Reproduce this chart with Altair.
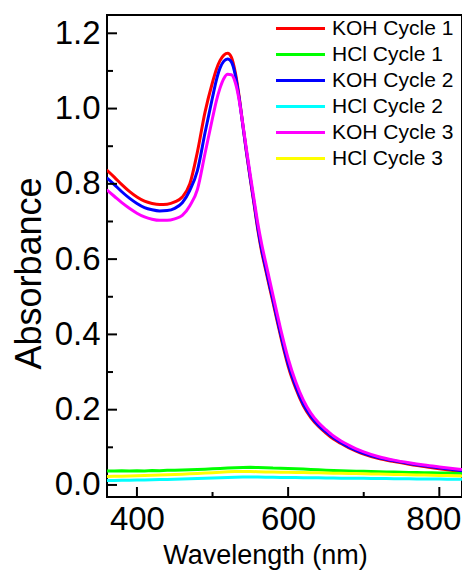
import altair as alt
import pandas as pd

# ---- data ----
koh_wl = [360, 370, 380, 390, 400, 410, 420, 430, 440, 450, 460, 470, 480, 490, 500,
          505, 510, 515, 520, 525, 530, 535, 540, 545, 550, 555, 560, 565, 570, 575,
          580, 585, 590, 595, 600,
          610, 620, 630, 640, 650, 660, 670, 680, 690, 700,
          720, 740, 760, 780, 800, 830]

koh1 = [0.837, 0.818, 0.798, 0.780, 0.765, 0.754, 0.748, 0.745, 0.746, 0.752, 0.765, 0.800, 0.885, 0.990, 1.070,
        1.104, 1.128, 1.142, 1.147, 1.136, 1.097, 1.035, 0.958, 0.882, 0.812, 0.745, 0.677, 0.620, 0.574, 0.529,
        0.485, 0.440, 0.396, 0.354, 0.316,
        0.257, 0.211, 0.179, 0.156, 0.138, 0.122, 0.110, 0.099, 0.090, 0.082,
        0.070, 0.062, 0.055, 0.049, 0.043, 0.035]

koh2 = [0.816, 0.798, 0.779, 0.762, 0.748, 0.737, 0.731, 0.728, 0.729, 0.735, 0.750, 0.783, 0.835, 0.935, 1.030,
        1.075, 1.108, 1.126, 1.132, 1.124, 1.090, 1.030, 0.957, 0.884, 0.815, 0.749, 0.682, 0.626, 0.580, 0.535,
        0.491, 0.446, 0.402, 0.360, 0.322,
        0.262, 0.215, 0.183, 0.159, 0.141, 0.125, 0.112, 0.101, 0.092, 0.084,
        0.072, 0.064, 0.057, 0.051, 0.046, 0.038]

koh3 = [0.784, 0.767, 0.750, 0.735, 0.722, 0.712, 0.706, 0.703, 0.703, 0.707, 0.716, 0.742, 0.785, 0.880, 0.975,
        1.020, 1.055, 1.080, 1.091, 1.090, 1.070, 1.025, 0.960, 0.890, 0.823, 0.758, 0.694, 0.640, 0.594, 0.549,
        0.504, 0.459, 0.415, 0.374, 0.336,
        0.274, 0.226, 0.191, 0.166, 0.147, 0.130, 0.117, 0.106, 0.096, 0.088,
        0.075, 0.066, 0.059, 0.053, 0.048, 0.041]

hcl_wl = [360, 370, 380, 390, 400, 410, 420, 430, 440, 450, 460, 470, 480, 490, 500, 510,
          520, 530, 540, 550, 560, 570, 580, 590, 600, 610, 620, 630, 640, 650, 660, 670,
          680, 690, 700, 710, 720, 730, 740, 750, 760, 770, 780, 790, 800, 810, 820, 830]

hcl1 = [0.0372, 0.0368, 0.0376, 0.0371, 0.0379, 0.0374, 0.0383, 0.0379, 0.0388, 0.0392, 0.0399, 0.0404, 0.0413, 0.0419, 0.0428, 0.0437,
        0.0448, 0.0455, 0.0466, 0.0469, 0.0463, 0.0460, 0.0451, 0.0447, 0.0438, 0.0431, 0.0422, 0.0412, 0.0404, 0.0392, 0.0384, 0.0376,
        0.0370, 0.0366, 0.0361, 0.0356, 0.0351, 0.0347, 0.0342, 0.0338, 0.0334, 0.0331, 0.0327, 0.0323, 0.0320, 0.0316, 0.0313, 0.0310]

hcl2 = [0.0115, 0.0118, 0.0122, 0.0126, 0.0130, 0.0134, 0.0139, 0.0143, 0.0148, 0.0153, 0.0158, 0.0164, 0.0170, 0.0176, 0.0183, 0.0190,
        0.0197, 0.0204, 0.0209, 0.0212, 0.0210, 0.0207, 0.0204, 0.0201, 0.0199, 0.0197, 0.0194, 0.0192, 0.0190, 0.0187, 0.0183, 0.0181,
        0.0179, 0.0177, 0.0175, 0.0173, 0.0171, 0.0169, 0.0167, 0.0165, 0.0163, 0.0161, 0.0159, 0.0157, 0.0155, 0.0153, 0.0151, 0.0150]

hcl3 = [0.0222, 0.0228, 0.0234, 0.0238, 0.0245, 0.0250, 0.0257, 0.0262, 0.0270, 0.0278, 0.0287, 0.0295, 0.0305, 0.0316, 0.0327, 0.0338,
        0.0348, 0.0355, 0.0360, 0.0358, 0.0352, 0.0347, 0.0342, 0.0338, 0.0335, 0.0332, 0.0329, 0.0326, 0.0322, 0.0319, 0.0314, 0.0310,
        0.0306, 0.0302, 0.0298, 0.0293, 0.0289, 0.0285, 0.0280, 0.0276, 0.0271, 0.0266, 0.0262, 0.0258, 0.0253, 0.0249, 0.0245, 0.0241]

series_names = ["KOH Cycle 1", "HCl Cycle 1", "KOH Cycle 2", "HCl Cycle 2", "KOH Cycle 3", "HCl Cycle 3"]
series_colors = ["#FF0000", "#00FF00", "#0000FF", "#00FFFF", "#FF00FF", "#FFFF00"]

x_major = [400, 600, 800]
x_minor = [500, 700]
y_major = [0.0, 0.2, 0.4, 0.6, 0.8, 1.0, 1.2]
y_minor = [0.1, 0.3, 0.5, 0.7, 0.9, 1.1]

X_DOMAIN = [360.4, 830.0]
Y_DOMAIN = [-0.032, 1.2486]

W, H = 355, 482
FONT = "Arial, Liberation Sans, sans-serif"

series_data = {
    "KOH Cycle 1": (koh_wl, koh1, "monotone"),
    "HCl Cycle 1": (hcl_wl, hcl1, "linear"),
    "KOH Cycle 2": (koh_wl, koh2, "monotone"),
    "HCl Cycle 2": (hcl_wl, hcl2, "linear"),
    "KOH Cycle 3": (koh_wl, koh3, "monotone"),
    "HCl Cycle 3": (hcl_wl, hcl3, "linear"),
}

xscale = alt.Scale(domain=X_DOMAIN, nice=False, zero=False)
yscale = alt.Scale(domain=Y_DOMAIN, nice=False, zero=False)
cscale = alt.Scale(domain=series_names, range=series_colors)

xaxis = alt.Axis(title="Wavelength (nm)", values=x_major, format="d", ticks=False, grid=False,
                 domain=False, labelFontSize=33, labelFont=FONT, labelColor="black",
                 labelPadding=6, labelOverlap=False, labelFlush=False,
                 labelOffset={"condition": {"test": "datum.value == 800", "value": -6}, "value": 0},
                 titleFont=FONT, titleFontSize=27, titleFontWeight="normal", titleColor="black",
                 titleBaseline="alphabetic", titleY=66, titleX=158)
yaxis = alt.Axis(title="Absorbance", values=y_major, format=".1f", ticks=False, grid=False,
                 domain=False, labelFontSize=33, labelFont=FONT, labelColor="black",
                 labelPadding=7, labelOverlap=False, labelFlush=False,
                 titleFont=FONT, titleFontSize=36, titleFontWeight="normal", titleColor="black",
                 titleBaseline="alphabetic", titleX=-67, titleY=258)

legend = alt.Legend(title=None, orient="none", legendX=183, legendY=3,
                    symbolType="M-4,0H4", symbolSize=150, symbolStrokeWidth=3,
                    labelFont=FONT, labelFontSize=21, labelColor="black",
                    labelOffset=21, rowPadding=4, padding=0)

X = alt.X("wl:Q", scale=xscale, axis=xaxis)
Y = alt.Y("abs:Q", scale=yscale, axis=yaxis)

layers = []
for name in series_names:
    wl, vals, interp = series_data[name]
    df = pd.DataFrame({"wl": wl, "abs": vals, "series": name})
    layers.append(
        alt.Chart(df).mark_line(strokeWidth=3, interpolate=interp, clip=True).encode(
            x=X, y=Y, color=alt.Color("series:N", scale=cscale, legend=legend)
        )
    )

# inward ticks
xt_major = alt.Chart(pd.DataFrame({"wl": x_major})).mark_rule(color="black", strokeWidth=2).encode(
    x=X, y=alt.value(H), y2=alt.value(H - 10))
xt_minor = alt.Chart(pd.DataFrame({"wl": x_minor})).mark_rule(color="black", strokeWidth=2).encode(
    x=X, y=alt.value(H), y2=alt.value(H - 5))
yt_major = alt.Chart(pd.DataFrame({"abs": y_major})).mark_rule(color="black", strokeWidth=2).encode(
    y=Y, x=alt.value(0), x2=alt.value(10))
yt_minor = alt.Chart(pd.DataFrame({"abs": y_minor})).mark_rule(color="black", strokeWidth=2).encode(
    y=Y, x=alt.value(0), x2=alt.value(6))

chart = alt.layer(*layers, xt_major, xt_minor, yt_major, yt_minor).properties(
    width=W, height=H,
    background="white",
    autosize=alt.AutoSizeParams(type="none"),
    padding={"left": 99, "top": 7, "right": 0, "bottom": 80},
).configure_view(stroke="black", strokeWidth=2)

chart.save("out.html", embed_options={"renderer": "svg", "actions": False})
